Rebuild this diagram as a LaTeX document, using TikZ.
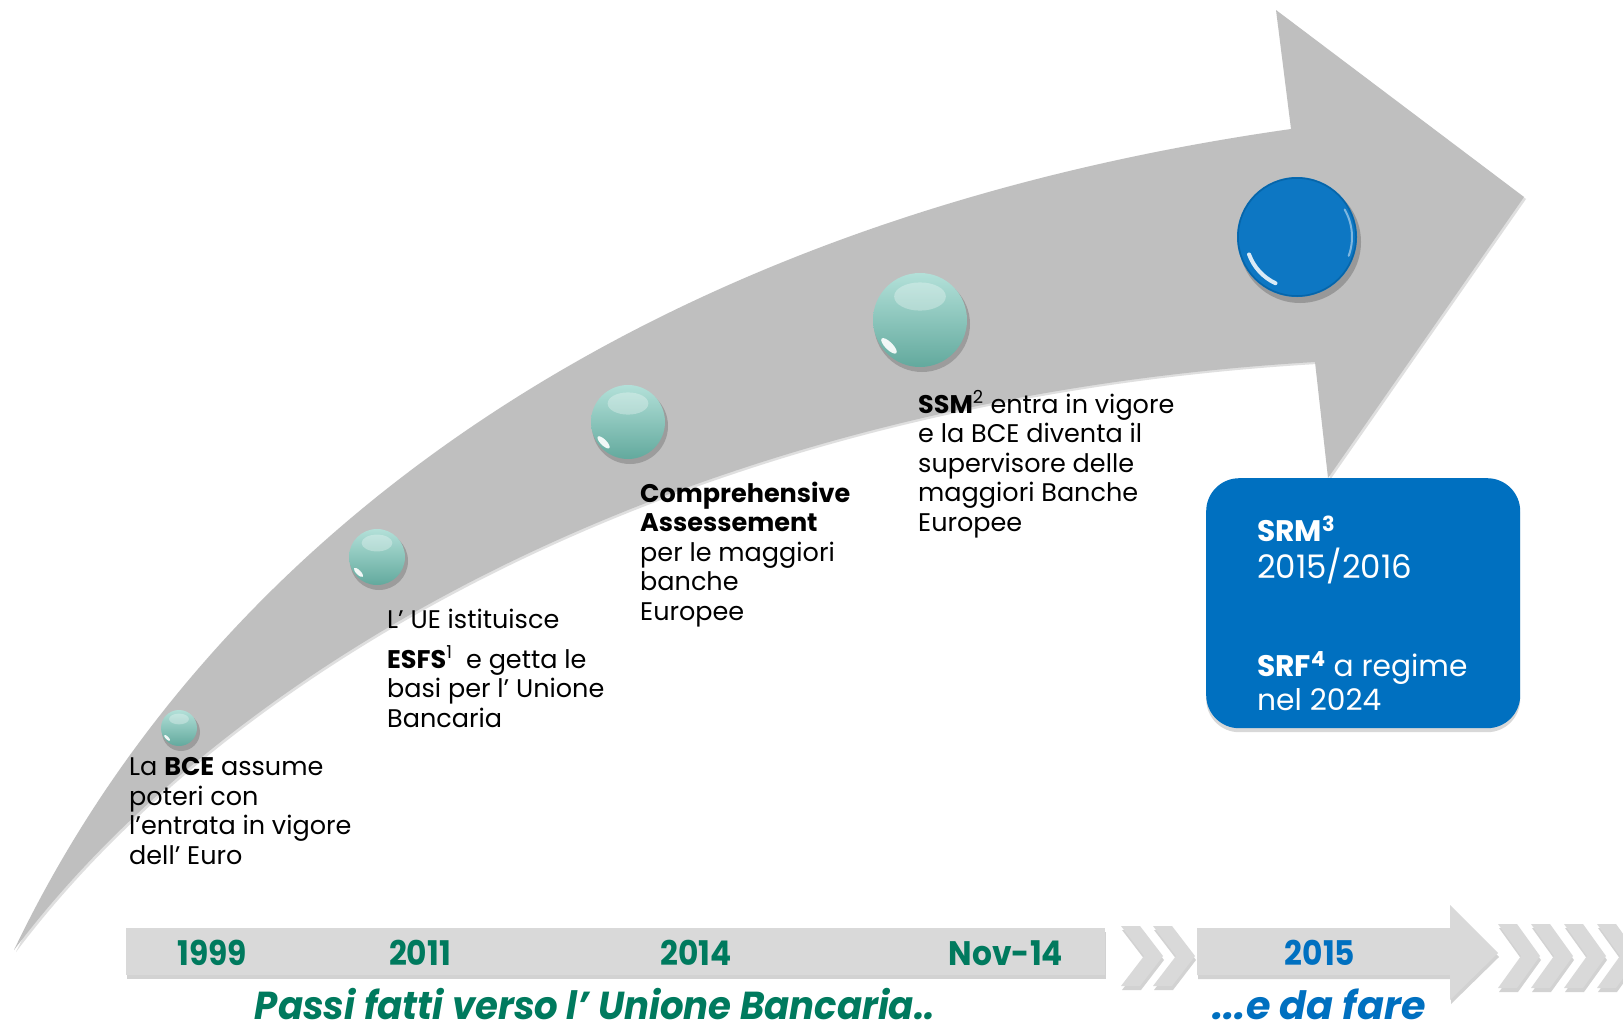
\documentclass[tikz,border=0pt]{standalone}
\usepackage{fontspec}
\setmainfont{Poppins}
\usepackage{graphicx}
\usetikzlibrary{shadows}
\definecolor{arrowgray}{RGB}{191,191,191}
\definecolor{bargray}{RGB}{217,217,217}
\definecolor{tealb}{RGB}{116,199,185}
\definecolor{greentxt}{RGB}{0,122,94}
\definecolor{bluec}{RGB}{0,112,192}
\newcommand\glossball[4]{%
  \fill[black,opacity=0.18] (#1+2,#2+4) circle (#3+1);
  \shade[top color=#4!55!white, bottom color=#4!85!black] (#1,#2) circle (#3);
  \fill[white,opacity=0.3] (#1,#2-0.5*#3) ellipse ({0.55*#3} and {0.3*#3});
  \fill[white,opacity=0.9,rotate around={-45:(#1-0.66*#3,#2+0.55*#3)}] (#1-0.66*#3,#2+0.55*#3) ellipse ({0.22*#3} and {0.08*#3});
}
\tikzset{
  body/.style={font=\fontsize{25.5}{29.5}\selectfont, align=left, anchor=base west, inner sep=0pt, text=black},
  boxtxt/.style={font=\fontsize{29.7}{34}\selectfont, anchor=base west, inner sep=0pt, text=white},
  yearlbl/.style={font=\fontsize{34}{34}\selectfont\bfseries, anchor=base, inner sep=0pt, text=greentxt},
  captxt/.style={font=\fontsize{39}{39}\selectfont\bfseries\itshape, anchor=base, inner sep=0pt},
  barshadow/.style={drop shadow={shadow xshift=1pt, shadow yshift=-4pt, opacity=0.35}},
}
\newcommand\yr[1]{\scalebox{0.92}[1]{#1}}
\begin{document}
\begin{tikzpicture}[x=1pt,y=-1pt]
\useasboundingbox (0,0) rectangle (1623,1034);
\fill[white] (0,0) rectangle (1623,1034);
% big curved arrow
\fill[arrowgray, drop shadow={shadow xshift=2pt, shadow yshift=-2pt, opacity=0.25}]
  (14,950) .. controls (215,530) and (650,220) .. (1291,129)
  -- (1276,10) -- (1524,197) -- (1328,478) -- (1315,362)
  .. controls (675,400) and (225,670) .. (14,950) -- cycle;
% spheres
\glossball{179}{728}{18}{tealb}
\glossball{377}{557}{28}{tealb}
\glossball{628}{422}{37}{tealb}
\glossball{920}{320}{47}{tealb}
% blue sphere
\fill[black,opacity=0.2] (1300,242) circle (61);
\fill[bluec!95!white] (1297,237) circle (60);
\draw[bluec!75!black, line width=1.5pt, opacity=0.5] (1297,237) circle (59);
\draw[white, line width=4pt, opacity=0.85, line cap=round] ([shift={(115:51)}]1297,237) arc[start angle=115, end angle=160, radius=51];
\draw[white!60!bluec, line width=2pt, opacity=0.8, line cap=round] ([shift={(-30:55)}]1297,237) arc[start angle=-30, end angle=20, radius=55];
% texts on the arrow (anchored on the baseline of the last line)
\node (t1999) [body] at (129,864) {La \textbf{BCE} assume\\poteri con\\l’entrata in vigore\\dell’ Euro};
\node (t2011) [body] at (387,727) {L’ UE istituisce\\[10.5pt]\textbf{ESFS}\textsuperscript{1}\ \ e getta le\\basi per l’ Unione\\Bancaria};
\node (t2014) [body] at (640,620) {\textbf{Comprehensive}\\\textbf{Assessement}\\per le maggiori\\banche\\Europee};
\node (tnov) [body] at (918,531) {\textbf{SSM}\textsuperscript{2} entra in vigore\\e la BCE diventa il\\supervisore delle\\maggiori Banche\\Europee};
% blue box
\node (srmbox) [fill=bluec, rounded corners=33pt, minimum width=314pt, minimum height=250pt,
  anchor=north west, inner sep=0pt, drop shadow={shadow xshift=0pt, shadow yshift=-4pt, opacity=0.3}] at (1206,478) {};
\node (srm) [boxtxt] at (1257,541) {\textbf{SRM}\textsuperscript{\textbf{3}}};
\node (srmyr) [boxtxt, font=\fontsize{32.4}{34}\selectfont] at (1257,578) {2015/2016};
\node (srf) [boxtxt] at (1257,676) {\textbf{SRF}\textsuperscript{\textbf{4}} a regime};
\node (srfyr) [boxtxt] at (1257,710) {nel 2024};
% bottom timeline
\fill[bargray, barshadow] (126,928) rectangle (1105,975);
\foreach \cx in {1121,1153} {
  \fill[bargray, barshadow] (\cx,926) -- (\cx+19,926) -- (\cx+42,956) -- (\cx+19,986) -- (\cx,986) -- (\cx+23,956) -- cycle;
}
\fill[bargray, barshadow] (1197,928) -- (1450,928) -- (1450,905) -- (1498,953) -- (1450,1000) -- (1450,975) -- (1197,975) -- cycle;
\foreach \cx in {1498,1531,1564,1597} {
  \fill[bargray, barshadow] (\cx,924) -- (\cx+19,924) -- (\cx+42,956) -- (\cx+19,988) -- (\cx,988) -- (\cx+23,956) -- cycle;
}
\node (y1999) [yearlbl] at (212,965) {\yr{1999}};
\node (y2011) [yearlbl] at (420,965) {\yr{2011}};
\node (y2014) [yearlbl] at (696,965) {\yr{2014}};
\node (ynov) [yearlbl] at (1006,965) {\yr{Nov-14}};
\node (y2015) [yearlbl, text=bluec] at (1320,965) {\yr{2015}};
% captions
\node (cap1) [captxt, text=greentxt] at (595,1019) {\resizebox{680pt}{\height}{Passi fatti verso l’ Unione Bancaria..}};
\node (cap2) [captxt, text=bluec] at (1319,1019) {\resizebox{213pt}{\height}{...e da fare}};
\end{tikzpicture}
\end{document}
